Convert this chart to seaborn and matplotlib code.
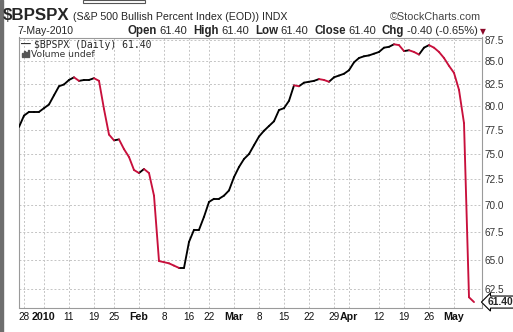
import numpy as np
import pandas as pd
import matplotlib
matplotlib.use("Agg")
import matplotlib.pyplot as plt
import seaborn as sns
from matplotlib.ticker import FixedLocator, FixedFormatter, NullLocator
from matplotlib.patches import Rectangle

# ---------------- data ----------------
holidays = ["2009-12-25", "2010-01-01", "2010-01-18", "2010-02-15", "2010-04-02"]
trading_days = pd.bdate_range("2009-12-24", "2010-05-07").drop(pd.to_datetime(holidays))

values = [
    77.8, 79.0, 79.4, 79.4, 79.4, 79.8, 80.2, 81.2, 82.2, 82.4,
    82.9, 83.2, 82.8, 82.9, 82.9, 83.1, 82.8, 79.7, 77.0, 76.4,
    76.5, 75.5, 74.7, 73.4, 73.1, 73.5, 73.1, 70.9, 64.9, 64.8,
    64.7, 64.5, 64.3, 64.3, 66.6, 67.7, 67.7, 68.9, 70.3, 70.6,
    70.6, 70.9, 71.4, 72.7, 73.7, 74.5, 75.0, 75.9, 76.8, 77.4,
    77.9, 78.4, 79.6, 79.8, 80.6, 82.3, 82.2, 82.6, 82.7, 82.8,
    83.0, 82.9, 82.7, 83.2, 83.4, 83.6, 84.0, 84.9, 85.4, 85.6,
    85.7, 85.9, 86.1, 86.6, 86.7, 87.0, 86.9, 86.2, 86.3, 86.1,
    85.8, 86.6, 86.9, 86.6, 86.1, 85.4, 84.5, 83.7, 81.8, 78.2,
    61.8, 61.4,
]

tick_dates = ["2009-12-28", "2010-01-04", "2010-01-11", "2010-01-19", "2010-01-25",
              "2010-02-01", "2010-02-08", "2010-02-16", "2010-02-22", "2010-03-01",
              "2010-03-08", "2010-03-15", "2010-03-22", "2010-03-29", "2010-04-01",
              "2010-04-12", "2010-04-19", "2010-04-26", "2010-05-03"]
tick_labels = ["28", "2010", "11", "19", "25", "Feb", "8", "16", "22", "Mar",
               "8", "15", "22", "29", "Apr", "12", "19", "26", "May"]
bold_labels = {"2010", "Feb", "Mar", "Apr", "May"}

y_ticks = [62.5, 65.0, 67.5, 70.0, 72.5, 75.0, 77.5, 80.0, 82.5, 85.0, 87.5]

# ---------------- build frame ----------------
n = len(values)
rows = []
for i in range(n - 1):
    d = "down" if values[i + 1] < values[i] else "up"
    rows.append((i, i, values[i], d))
    rows.append((i, i + 1, values[i + 1], d))
df = pd.DataFrame(rows, columns=["seg", "x", "value", "dir"])

pos = {d: i for i, d in enumerate(trading_days.strftime("%Y-%m-%d"))}
tick_pos = [pos[d] for d in tick_dates]

# ---------------- figure ----------------
sns.set_style("white")
plt.rcParams["font.family"] = ["Liberation Sans", "DejaVu Sans"]

W, H = 513, 332
fig = plt.figure(figsize=(W / 100, H / 100), dpi=100)
fig.patch.set_facecolor("white")
L, R, T, B = 18.5, 481.5, 37.5, 307.5
ax = fig.add_axes([L / W, 1 - B / H, (R - L) / W, (B - T) / H])
ax.set_facecolor("white")

sns.lineplot(data=df, x="x", y="value", hue="dir", units="seg", estimator=None,
             palette={"up": "#000000", "down": "#c8103c"}, legend=False,
             lw=1.35, ax=ax, solid_capstyle="round", zorder=3)

ax.set_yscale("log")
ax.set_ylim(60.95, 87.8)
ax.set_xlim(-0.1, 92.5)
ax.yaxis.set_major_locator(FixedLocator(y_ticks))
ax.yaxis.set_major_formatter(FixedFormatter([f"{v:.1f}" for v in y_ticks]))
ax.yaxis.set_minor_locator(NullLocator())
ax.xaxis.set_major_locator(FixedLocator(tick_pos))
ax.xaxis.set_major_formatter(FixedFormatter(tick_labels))
ax.set_xlabel("")
ax.set_ylabel("")
ax.yaxis.tick_right()
ax.tick_params(axis="y", length=0, pad=2.5, labelsize=7.2, labelcolor="#333333")
ax.tick_params(axis="x", length=0, pad=3.5, labelsize=7.2, labelcolor="#111111")
for lab in ax.get_xticklabels():
    if lab.get_text() in bold_labels:
        lab.set_fontweight("bold")
        lab.set_fontsize(7.7)

ax.grid(True, which="major", color="#c4c4c4", linestyle=(0, (2, 2)), lw=0.7)
for s in ax.spines.values():
    s.set_color("#9a9a9a")
    s.set_linewidth(0.8)

# last value tag
ax.annotate(f"{values[-1]:.2f}", xy=(1, values[-1]), xycoords=("axes fraction", "data"),
            xytext=(4.5, 0), textcoords="offset points", ha="left", va="center",
            fontsize=7.4, fontweight="bold",
            bbox=dict(boxstyle="larrow,pad=0.1", fc="white", ec="black", lw=0.8))

# legend inside plot
fig.text(21 / W, 1 - 47.5 / H, "\u2014", fontsize=7, fontweight="bold", va="baseline")
fig.text(34 / W, 1 - 47.5 / H, f"$BPSPX (Daily) {values[-1]:.2f}",
         family="DejaVu Sans Mono", fontsize=7.0, va="baseline")
for k, hgt in enumerate([4, 6, 5, 7]):
    fig.patches.append(Rectangle(((22 + k * 2) / W, 1 - 57 / H), 1.4 / W, hgt / H,
                                 transform=fig.transFigure, color="#555555"))
fig.text(31 / W, 1 - 57 / H, "Volume undef", family="DejaVu Sans", fontsize=6.6,
         va="baseline", color="#333333")

# header
renderer = fig.canvas.get_renderer()


def runs(x, y, parts):
    for s, kw, gap in parts:
        t = fig.text(x / W, 1 - y / H, s, va="baseline", ha="left", **kw)
        x += t.get_window_extent(renderer).width + gap
    return x


runs(3, 20.5, [("$BPSPX", dict(fontsize=12.2, fontweight="bold"), 3),
               ("(S&P 500 Bullish Percent Index (EOD)) INDX", dict(fontsize=7.7), 0)])
fig.text(481 / W, 1 - 20.5 / H, "\u00a9StockCharts.com", fontsize=7.8, ha="right",
         va="baseline", color="#444444")
fig.text(17 / W, 1 - 34 / H, "7-May-2010", fontsize=7.6, va="baseline")
chg = values[-1] - values[-2]
pct = chg / values[-2] * 100
v = f"{values[-1]:.2f}"
bk = dict(fontsize=8.3, fontweight="bold")
nk = dict(fontsize=8.0)
endx = runs(127.5, 34, [("Open", bk, 2.5), (v, nk, 6),
                        ("High", bk, 2.5), (v, nk, 6),
                        ("Low", bk, 2.5), (v, nk, 6),
                        ("Close", bk, 2.5), (v, nk, 6),
                        ("Chg", bk, 2.5),
                        (f"{chg:.2f} ({pct:.2f}%)", nk, 2.5)])
fig.text(endx / W, 1 - 34 / H, "\u25bc", fontsize=5.5, va="baseline", color="#8b0a2a",
         family="DejaVu Sans")

# decorative frame bits
fig.patches.append(Rectangle((0, 0), 2.5 / W, 1, transform=fig.transFigure,
                             color="#6e6e6e"))
fig.patches.append(Rectangle((83 / W, 1 - 3 / H), 62 / W, 3 / H, transform=fig.transFigure,
                             fill=False, ec="#555555", lw=0.8))

fig.savefig("out.png", dpi=100)
